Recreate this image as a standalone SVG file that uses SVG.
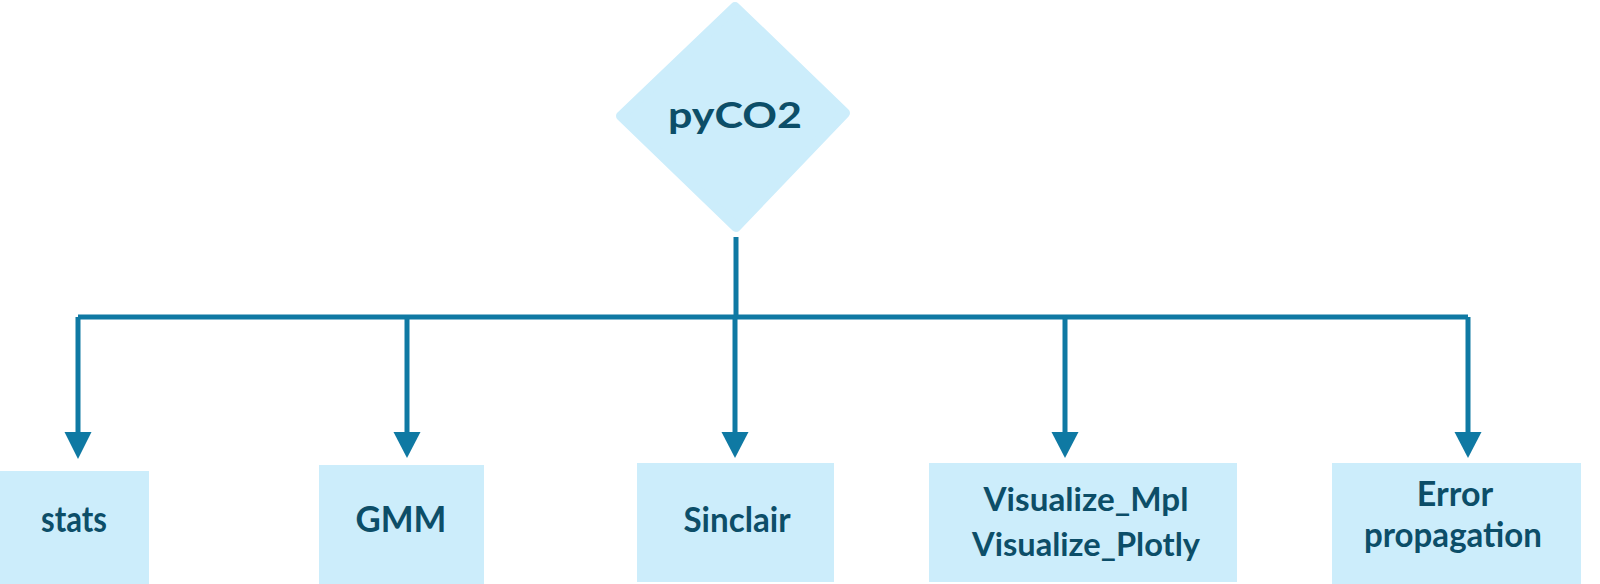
<svg xmlns="http://www.w3.org/2000/svg" width="1600" height="584" viewBox="0 0 1600 584">
<style>
.box{fill:#CCEDFB;}
.lbl{font-family:Lato,"Open Sans","Liberation Sans",sans-serif;font-weight:bold;fill:#0C4E68;text-anchor:middle;}
.cond{font-family:Lato,"Liberation Sans",sans-serif;font-weight:bold;fill:#0C4E68;text-anchor:middle;}
.wire{stroke:#0F79A3;stroke-width:5;fill:none;}
.head{fill:#0F79A3;}
</style>
<rect width="1600" height="584" fill="#FFFFFF"/>
<g id="connectors">
<path class="wire" d="M736 237 V317"/>
<path class="wire" d="M78 317 H1468"/>
<path class="wire" d="M78 317 V434"/>
<path class="wire" d="M407 317 V434"/>
<path class="wire" d="M735 317 V434"/>
<path class="wire" d="M1065 317 V434"/>
<path class="wire" d="M1468 317 V434"/>
<polygon class="head" points="64.5,432 91.5,432 78,459"/>
<polygon class="head" points="393.5,432 420.5,432 407,458"/>
<polygon class="head" points="721.5,432 748.5,432 735,458"/>
<polygon class="head" points="1051.5,432 1078.5,432 1065,458"/>
<polygon class="head" points="1454.5,432 1481.5,432 1468,458"/>
</g>
<g id="pyCO2">
<polygon points="735,7 845,113 736,227 621,116" fill="#CCEDFB" stroke="#CCEDFB" stroke-width="10" stroke-linejoin="round"/>
<text class="lbl" x="735" y="128" font-size="37" textLength="134" lengthAdjust="spacingAndGlyphs">pyCO2</text>
</g>
<g id="stats">
<rect class="box" x="0" y="471" width="149" height="113"/>
<text class="lbl" x="74" y="532" font-size="36" textLength="66" lengthAdjust="spacingAndGlyphs">stats</text>
</g>
<g id="GMM">
<rect class="box" x="319" y="465" width="165" height="119"/>
<text class="lbl" x="401" y="532" font-size="36" textLength="91" lengthAdjust="spacingAndGlyphs">GMM</text>
</g>
<g id="Sinclair">
<rect class="box" x="637" y="463" width="197" height="119"/>
<text class="cond" x="737" y="532" font-size="34" textLength="107" lengthAdjust="spacingAndGlyphs">Sinclair</text>
</g>
<g id="Visualize">
<rect class="box" x="929" y="463" width="308" height="119"/>
<text class="cond" x="1086" y="511" font-size="33" textLength="205" lengthAdjust="spacingAndGlyphs">Visualize_Mpl</text>
<text class="cond" x="1086" y="556" font-size="33" textLength="228" lengthAdjust="spacingAndGlyphs">Visualize_Plotly</text>
</g>
<g id="ErrorPropagation">
<rect class="box" x="1332" y="463" width="249" height="121"/>
<text class="lbl" x="1455" y="506" font-size="34">Error</text>
<text class="lbl" x="1453" y="547" font-size="34" textLength="178" lengthAdjust="spacingAndGlyphs">propagation</text>
</g>
</svg>
